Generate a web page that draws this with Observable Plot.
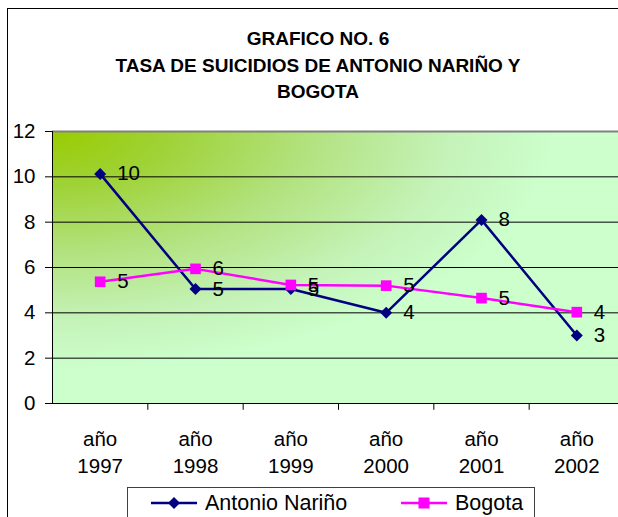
<!DOCTYPE html>
<html>
<head>
<meta charset="utf-8">
<script src="https://cdn.jsdelivr.net/npm/d3@7"></script>
<script src="https://cdn.jsdelivr.net/npm/@observablehq/plot@0.6"></script>
<style>
  html, body { margin: 0; padding: 0; background: #fff; }
  #wrap { position: relative; width: 618px; height: 517px; overflow: hidden; font-family: "Liberation Sans", Arial, sans-serif; }
  #frame { position: absolute; left: 7px; top: 8px; width: 700px; height: 600px; border-left: 1px solid #000; border-top: 1px solid #000; box-sizing: border-box; }
  #title { position: absolute; left: 8px; width: 620px; top: 26px; text-align: center; font-weight: bold; font-size: 19px; line-height: 26.5px; color: #000; }
  #chart { position: absolute; left: 0; top: 0; }
  #legend { position: absolute; left: 127px; top: 487px; width: 408px; height: 60px; border: 1px solid #404040; box-sizing: border-box; background: #fff; }
  .item { position: absolute; top: 1px; display: flex; align-items: center; font-size: 21.5px; color: #000; height: 28px; }
  .item svg { margin-right: 7px; }
</style>
</head>
<body>
<div id="wrap">
  <div id="frame"></div>
  <div id="title">GRAFICO NO. 6<br>TASA DE SUICIDIOS DE ANTONIO NARIÑO Y<br>BOGOTA</div>
  <div id="chart"></div>
  <div id="legend"></div>
</div>
<script>
const years = ["1997", "1998", "1999", "2000", "2001", "2002"];
const antonioNarino = [10.13, 5.05, 5.05, 4.0, 8.1, 3.0];
const bogota = [5.37, 5.94, 5.23, 5.2, 4.65, 4.03];
const yTicks = [0, 2, 4, 6, 8, 10, 12];
const gridValues = [2, 4, 6, 8, 10];
const seriesNames = ["Antonio Nariño", "Bogota"];
const seriesColors = ["#000080", "#FF00FF"];

const nData = years.map((y, i) => ({i, year: y, v: antonioNarino[i]}));
const bData = years.map((y, i) => ({i, year: y, v: bogota[i]}));
const xPos = d => d.i + 0.5;

const plot = Plot.plot({
  width: 618,
  height: 517,
  marginLeft: 52,
  marginTop: 131,
  marginBottom: 114,
  marginRight: 0,
  style: {fontFamily: "\"Liberation Sans\", Arial, sans-serif", background: "transparent", color: "#000", overflow: "visible"},
  x: {type: "linear", domain: [0, 6], range: [52, 624], axis: null},
  y: {domain: [0, 12], range: [403, 131], axis: null},
  marks: [
    Plot.rect([0], {x1: 0, x2: 6, y1: 0, y2: 12, fill: "url(#bg)"}),
    Plot.ruleY(gridValues, {stroke: "#000", strokeWidth: 1}),
    Plot.ruleY([12], {x1: 0, x2: 6, stroke: "#808080", strokeWidth: 2}),
    Plot.ruleY([0], {x1: 0, x2: 6, stroke: "#000", strokeWidth: 1}),
    Plot.ruleX([0], {y1: 0, y2: 12, stroke: "#000", strokeWidth: 1}),
    Plot.ruleX([1, 2, 3, 4, 5], {y1: 0, y2: -0.3, stroke: "#000"}),
    Plot.axisY({ticks: yTicks, anchor: "left", label: null, tickSize: 7, tickPadding: 10, fontSize: 20.5, stroke: "#000"}),
    Plot.text(years, {x: (d, i) => i + 0.5, y: 0, text: d => `año\n${d}`, lineAnchor: "top", dy: 23, fontSize: 20.5, lineHeight: 1.33, fill: "#000"}),
    Plot.line(nData, {x: xPos, y: "v", stroke: seriesColors[0], strokeWidth: 2.5}),
    Plot.line(bData, {x: xPos, y: "v", stroke: seriesColors[1], strokeWidth: 2.5}),
    Plot.dot(nData, {x: xPos, y: "v", symbol: "diamond2", r: 5.4, fill: seriesColors[0], stroke: "none"}),
    Plot.dot(bData, {x: xPos, y: "v", symbol: "square", r: 6, fill: seriesColors[1], stroke: "none"}),
    Plot.text(nData, {x: xPos, y: "v", text: d => String(Math.round(d.v)), textAnchor: "start", dx: 17, fontSize: 20.5, fill: "#000"}),
    Plot.text(bData, {x: xPos, y: "v", text: d => String(Math.round(d.v)), textAnchor: "start", dx: 17, fontSize: 20.5, fill: "#000"})
  ]
});

const svg = d3.select(plot);
const defs = svg.insert("defs", ":first-child");
const grad = defs.append("radialGradient").attr("id", "bg")
  .attr("gradientUnits", "objectBoundingBox").attr("cx", 0).attr("cy", 0).attr("r", 1).attr("fx", 0).attr("fy", 0);
[[0, "#99cc00"], [0.2, "#9fd236"], [0.45, "#b2e27f"], [0.7, "#c5f3b9"], [0.88, "#ccffcc"], [1, "#ccffcc"]].forEach(([o, c]) =>
  grad.append("stop").attr("offset", o).attr("stop-color", c));

document.getElementById("chart").appendChild(plot);

// Legend
const legend = d3.select("#legend");
const items = [
  {left: 22, name: seriesNames[0], color: seriesColors[0], sym: "diamond"},
  {left: 272, name: seriesNames[1], color: seriesColors[1], sym: "square"}
];
items.forEach(it => {
  const div = legend.append("div").attr("class", "item").style("left", it.left + "px");
  const s = div.append("svg").attr("width", 48).attr("height", 16);
  s.append("line").attr("x1", 1).attr("x2", 47).attr("y1", 8).attr("y2", 8).attr("stroke", it.color).attr("stroke-width", 2.5);
  if (it.sym === "diamond") {
    s.append("path").attr("d", "M24,2L30,8L24,14L18,8Z").attr("fill", it.color);
  } else {
    s.append("rect").attr("x", 18.5).attr("y", 2.5).attr("width", 11).attr("height", 11).attr("fill", it.color);
  }
  div.append("span").text(it.name);
});
</script>
</body>
</html>
